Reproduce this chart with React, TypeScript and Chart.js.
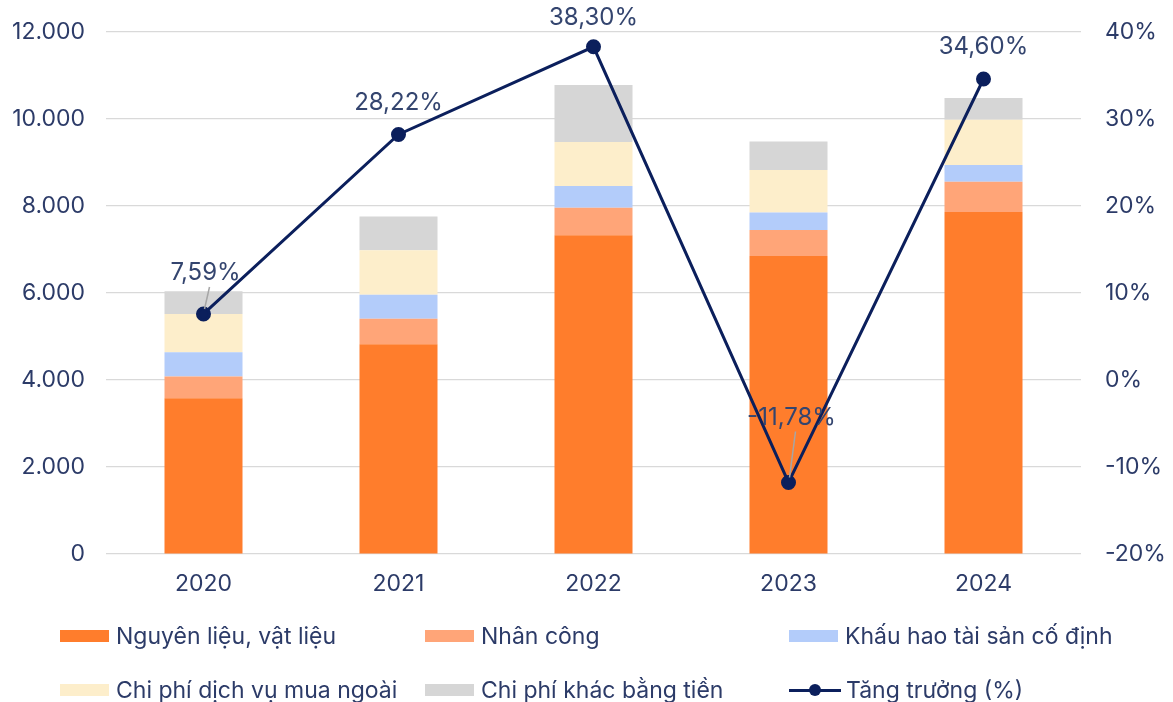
import React, { useEffect, useRef } from "react";
import { Chart, registerables } from "chart.js";

Chart.register(...registerables);

// Cost structure by year (tỷ đồng) and year-over-year growth (%)
const years = ["2020", "2021", "2022", "2023", "2024"];
const nguyenLieu = [3580, 4820, 7330, 6850, 7860];
const nhanCong = [500, 590, 630, 600, 700];
const khauHao = [560, 550, 500, 400, 380];
const dichVu = [880, 1020, 1010, 980, 1040];
const chiPhiKhac = [520, 780, 1310, 650, 500];
const tangTruong = [7.59, 28.22, 38.3, -11.78, 34.6];

const seriesNames = [
  "Nguyên liệu, vật liệu",
  "Nhân công",
  "Khấu hao tài sản cố định",
  "Chi phí dịch vụ mua ngoài",
  "Chi phí khác bằng tiền",
  "Tăng trưởng (%)",
];

const COLORS = {
  nguyenLieu: "#FF7D2C",
  nhanCong: "#FFA578",
  khauHao: "#B3CCFA",
  dichVu: "#FDEECB",
  chiPhiKhac: "#D6D6D6",
  line: "#0B1F5C",
  text: "#2C3B68",
  grid: "#D9D9D9",
};

const FONT = "Inter, 'Noto Sans', sans-serif";
const TICK_SIZE = 23;

// Offsets of the growth labels from their points, and whether a leader line is drawn
const labelOffsets = [
  { dx: 2, dy: -41, leader: true },
  { dx: 0, dy: -32, leader: false },
  { dx: 0, dy: -29, leader: false },
  { dx: 3, dy: -65, leader: true },
  { dx: 0, dy: -32, leader: false },
];

const fmtThousands = (v: number) =>
  String(Math.round(v)).replace(/\B(?=(\d{3})+(?!\d))/g, ".");
const fmtPct = (v: number) => v.toFixed(2).replace(".", ",") + "%";

const growthLabels = {
  id: "growthLabels",
  afterDatasetsDraw(chart: any) {
    const idx = chart.data.datasets.findIndex((d: any) => d.type === "line");
    if (idx < 0) return;
    const meta = chart.getDatasetMeta(idx);
    const ctx = chart.ctx;
    ctx.save();
    meta.data.forEach((pt: any, i: number) => {
      const off = labelOffsets[i];
      const v = chart.data.datasets[idx].data[i];
      const lx = pt.x + off.dx;
      const ly = pt.y + off.dy;
      if (off.leader) {
        ctx.strokeStyle = "#A6A6A6";
        ctx.lineWidth = 1.5;
        ctx.beginPath();
        ctx.moveTo(lx + 4, ly + 14);
        ctx.lineTo(pt.x + 1, pt.y - 5);
        ctx.stroke();
      }
      ctx.fillStyle = "#34456F";
      ctx.font = `24px ${FONT}`;
      ctx.textAlign = "center";
      ctx.textBaseline = "middle";
      ctx.fillText(fmtPct(v), lx, ly);
    });
    ctx.restore();
  },
};

function LegendItem({ x, y, color, label, line }: any) {
  return (
    <div
      style={{
        position: "absolute",
        left: x,
        top: y - 15,
        height: 30,
        display: "flex",
        alignItems: "center",
        whiteSpace: "nowrap",
      }}
    >
      {line ? (
        <div style={{ position: "relative", width: 52, height: 12, marginRight: 5 }}>
          <div
            style={{
              position: "absolute",
              left: 0,
              top: 5,
              width: 52,
              height: 3,
              background: color,
            }}
          />
          <div
            style={{
              position: "absolute",
              left: 20,
              top: 0,
              width: 12,
              height: 12,
              borderRadius: 6,
              background: color,
            }}
          />
        </div>
      ) : (
        <div style={{ width: 49, height: 12, background: color, marginRight: 7 }} />
      )}
      <span style={{ font: `23px ${FONT}`, color: COLORS.text }}>{label}</span>
    </div>
  );
}

export default function App() {
  const canvasRef = useRef<HTMLCanvasElement | null>(null);

  useEffect(() => {
    if (!canvasRef.current) return;
    const chart = new Chart(canvasRef.current, {
      type: "bar",
      data: {
        labels: years,
        datasets: [
          {
            type: "line",
            label: seriesNames[5],
            data: tangTruong,
            yAxisID: "y1",
            borderColor: COLORS.line,
            backgroundColor: COLORS.line,
            borderWidth: 3,
            pointRadius: 6,
            pointBackgroundColor: COLORS.line,
            pointBorderColor: COLORS.line,
            tension: 0,
            order: 0,
          } as any,
          { label: seriesNames[0], data: nguyenLieu, backgroundColor: COLORS.nguyenLieu, stack: "s", order: 1 },
          { label: seriesNames[1], data: nhanCong, backgroundColor: COLORS.nhanCong, stack: "s", order: 1 },
          { label: seriesNames[2], data: khauHao, backgroundColor: COLORS.khauHao, stack: "s", order: 1 },
          { label: seriesNames[3], data: dichVu, backgroundColor: COLORS.dichVu, stack: "s", order: 1 },
          { label: seriesNames[4], data: chiPhiKhac, backgroundColor: COLORS.chiPhiKhac, stack: "s", order: 1 },
        ],
      },
      options: {
        animation: false,
        responsive: false,
        devicePixelRatio: 1,
        layout: { autoPadding: false, padding: { top: 32, left: 0, right: 0, bottom: 0 } },
        datasets: { bar: { categoryPercentage: 0.8, barPercentage: 0.5 } },
        plugins: {
          legend: { display: false },
          tooltip: { enabled: false },
        },
        scales: {
          x: {
            stacked: true,
            grid: { display: false, drawTicks: false },
            border: { display: false },
            ticks: { color: COLORS.text, font: { family: FONT, size: TICK_SIZE }, padding: 16 },
            afterFit: (s: any) => {
              s.height = 702 - 554;
            },
          },
          y: {
            stacked: true,
            position: "left",
            min: 0,
            max: 12000,
            ticks: {
              stepSize: 2000,
              color: COLORS.text,
              font: { family: FONT, size: TICK_SIZE },
              padding: 21,
              callback: (v: any) => fmtThousands(Number(v)),
            },
            grid: { color: COLORS.grid, lineWidth: 1.2, drawTicks: false },
            border: { display: false },
            afterFit: (s: any) => {
              s.width = 106;
              s.paddingTop = 0;
              s.paddingBottom = 0;
            },
          },
          y1: {
            position: "right",
            min: -20,
            max: 40,
            ticks: {
              stepSize: 10,
              color: COLORS.text,
              font: { family: FONT, size: TICK_SIZE },
              padding: 24,
              callback: (v: any) => `${v}%`,
            },
            grid: { display: false, drawTicks: false },
            border: { display: false },
            afterFit: (s: any) => {
              s.width = 1173 - 1081;
              s.paddingTop = 0;
              s.paddingBottom = 0;
            },
          },
        },
      },
      plugins: [growthLabels],
    });
    return () => chart.destroy();
  }, []);

  return (
    <div style={{ position: "fixed", left: 0, top: 0, width: 1173, height: 702, background: "#fff" }}>
      <canvas ref={canvasRef} width={1173} height={702} style={{ display: "block" }} />
      <LegendItem x={60} y={636} color={COLORS.nguyenLieu} label={seriesNames[0]} />
      <LegendItem x={425} y={636} color={COLORS.nhanCong} label={seriesNames[1]} />
      <LegendItem x={789} y={636} color={COLORS.khauHao} label={seriesNames[2]} />
      <LegendItem x={60} y={690} color={COLORS.dichVu} label={seriesNames[3]} />
      <LegendItem x={425} y={690} color={COLORS.chiPhiKhac} label={seriesNames[4]} />
      <LegendItem x={789} y={690} color={COLORS.line} label={seriesNames[5]} line />
    </div>
  );
}
